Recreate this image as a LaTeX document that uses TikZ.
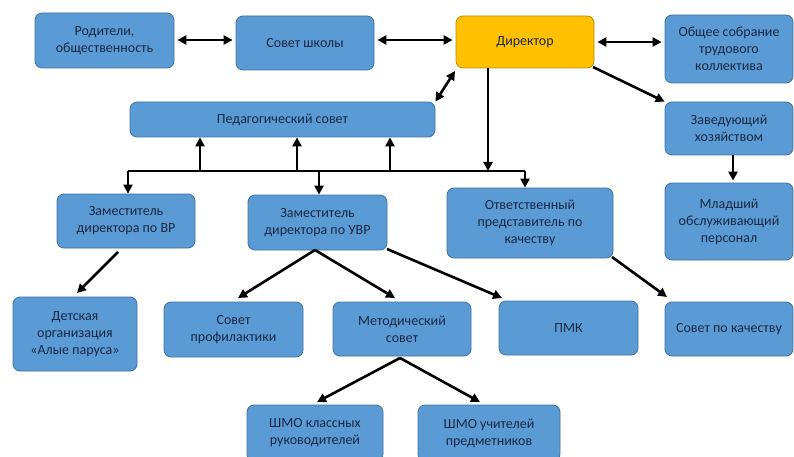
\documentclass[tikz,border=0pt]{standalone}
\usepackage{fontspec}
\setmainfont{Carlito}
\usetikzlibrary{arrows.meta}
\definecolor{boxblue}{HTML}{5B9BD5}
\definecolor{boxline}{HTML}{41719C}
\definecolor{diryellow}{HTML}{FFC000}
\definecolor{dirline}{HTML}{BC8C00}
\definecolor{textnavy}{HTML}{1A2842}
\begin{document}
\begin{tikzpicture}[x=1pt,y=-1pt,
	box/.style={draw=boxline, fill=boxblue, rounded corners=7pt, line width=0.8pt,
		align=center, text=textnavy, font=\fontsize{14}{17}\selectfont, inner sep=2pt},
	link/.style={line width=2.6pt, -{Triangle[length=9pt,width=9pt]}},
	both/.style={line width=2.6pt, {Triangle[length=9pt,width=9pt]}-{Triangle[length=9pt,width=9pt]}}]
	    \useasboundingbox (0,0) rectangle (794,457);
	    \clip (0,0) rectangle (794,457);
	    \node[box, minimum width=139pt, minimum height=55pt] (par) at (104.5, 40.5) {Родители,\\общественность};
	    \node[box, minimum width=138pt, minimum height=54pt] (sov) at (305, 43) {Совет школы};
	    \node[box, fill=diryellow, draw=dirline, minimum width=138pt, minimum height=52pt] (dir) at (525, 42) {Директор};
	    \node[box, minimum width=128pt, minimum height=68pt] (obs) at (729, 49) {Общее собрание\\трудового\\коллектива};
	    \node[box, minimum width=305pt, minimum height=35pt] (ped) at (282.5, 119.5) {Педагогический совет};
	    \node[box, minimum width=128pt, minimum height=53pt] (zav) at (729, 128.5) {Заведующий\\хозяйством};
	    \node[box, minimum width=138pt, minimum height=54pt] (zvr) at (126, 221) {Заместитель\\директора по ВР};
	    \node[box, minimum width=139pt, minimum height=55pt] (zuvr) at (317.5, 222.5) {Заместитель\\директора по УВР};
	    \node[box, minimum width=166pt, minimum height=70pt] (otv) at (530, 223) {Ответственный\\представитель по\\качеству};
	    \node[box, minimum width=128pt, minimum height=77pt] (mlad) at (729, 221.5) {Младший\\обслуживающий\\персонал};
	    \node[box, minimum width=124pt, minimum height=74pt] (det) at (75, 334) {Детская\\организация\\«Алые паруса»};
	    \node[box, minimum width=139pt, minimum height=55pt] (prof) at (233.5, 329.5) {Совет\\профилактики};
	    \node[box, minimum width=138pt, minimum height=54pt] (met) at (402, 329) {Методический\\совет};
	    \node[box, minimum width=139pt, minimum height=54pt] (pmk) at (568.5, 328) {ПМК};
	    \node[box, minimum width=128pt, minimum height=54pt] (kach) at (729, 329) {Совет по качеству};
	    \node[box, minimum width=136pt, minimum height=56pt] (shk) at (315, 433) {ШМО классных\\руководителей};
	    \node[box, minimum width=142pt, minimum height=56pt] (shu) at (489, 433) {ШМО учителей\\предметников};
	    \coordinate (b1) at (128, 171);
	    \coordinate (b2) at (525, 171);
	    \coordinate (d1) at (488, 171);
	    \draw[both, shorten <=3pt, shorten >=3pt] (par.east |- 0,40) -- (sov.west |- 0,40);
	    \draw[both, shorten <=3pt, shorten >=3pt] (sov.east |- 0,40) -- (dir.west |- 0,40);
	    \draw[both, shorten <=3pt, shorten >=3pt] (dir.east) -- (obs.west |- dir.east);
	    \draw[both] (455, 71) -- (ped.north east);
	    \draw[link] (593, 67) -- (zav.north west);
	    \draw[link] (dir.south -| d1) -- (d1);
	    \draw[line width=2.6pt] (b1) -- (b2);
	    \draw[link] (b1) -- (zvr.north -| b1);
	    \draw[link] (319, 171) -- (zuvr.north -| 319, 0);
	    \draw[link] (b2) -- (otv.north -| b2);
	    \foreach \xx in {200, 297, 390}
	        \draw[link] (\xx, 171) -- (ped.south -| \xx, 0);
	    \draw[link, shorten >=2pt] (zav.south -| 733, 0) -- (mlad.north -| 733, 0);
	    \draw[link] (118, 252) -- (77, 293);
	    \draw[link] (315, 250) -- (238, 298);
	    \draw[link] (315, 250) -- (395, 298);
	    \draw[link] (387, 249) -- (502, 298);
	    \draw[link] (612, 257) -- (667, 297);
	    \draw[link] (400, 358) -- (317, 402);
	    \draw[link] (400, 358) -- (480, 402);
\end{tikzpicture}
\end{document}
